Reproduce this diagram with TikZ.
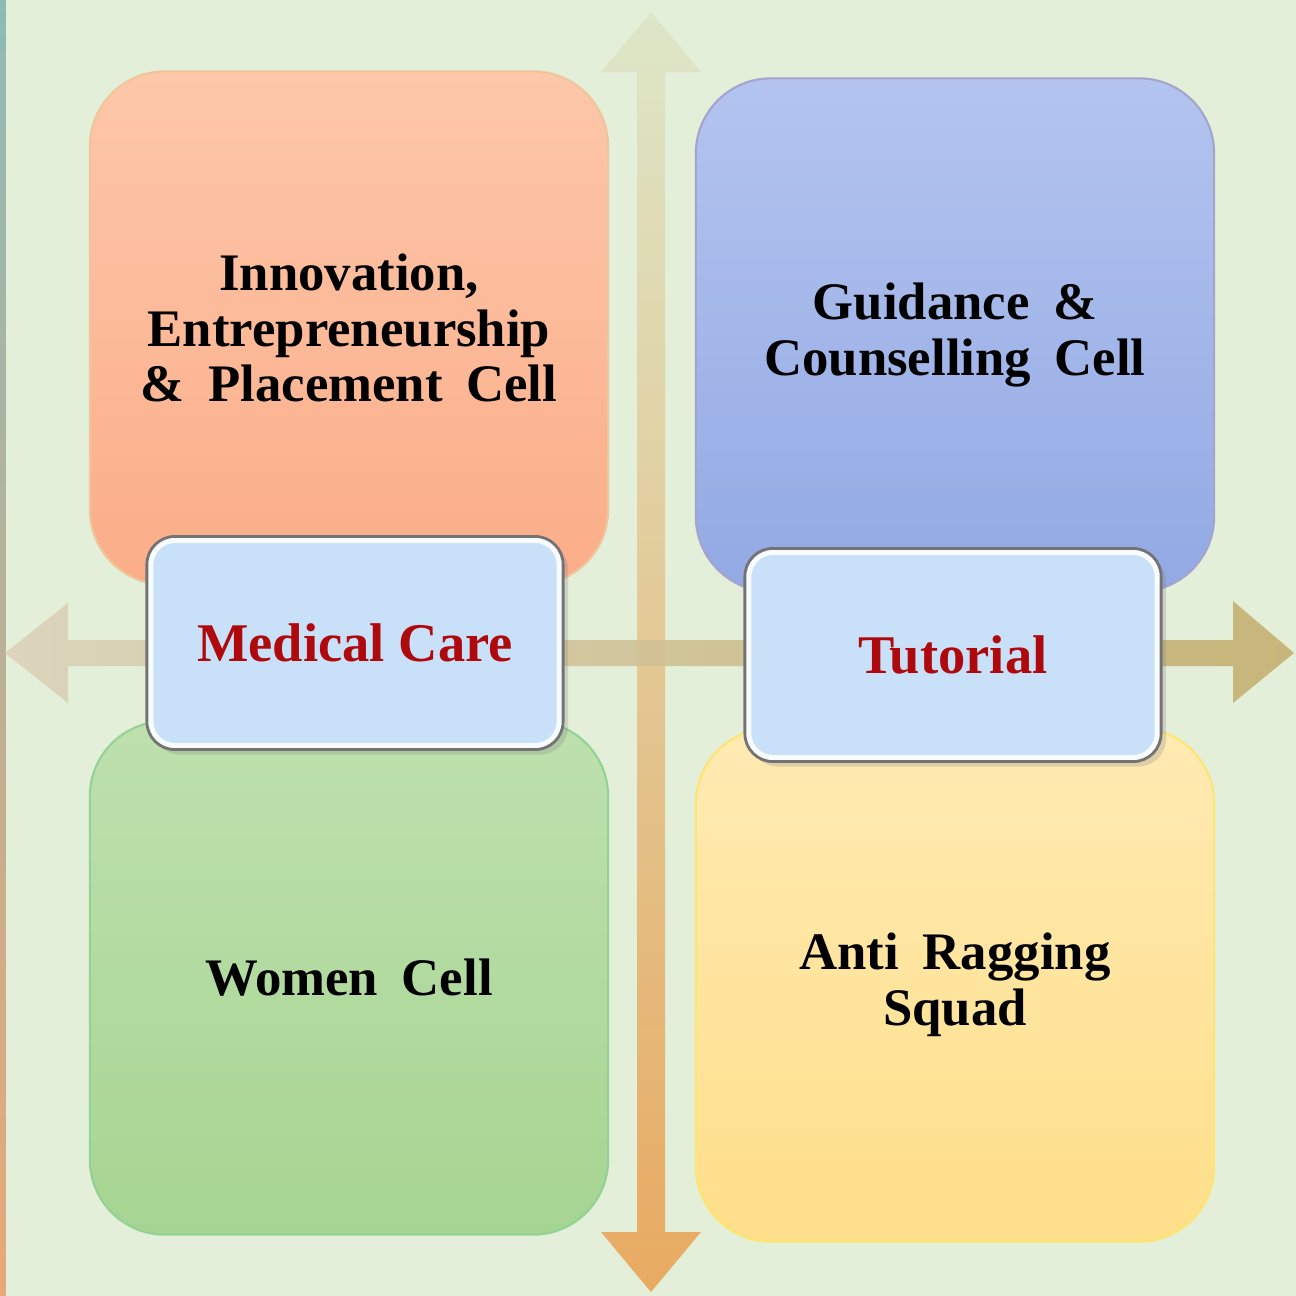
\documentclass[tikz,border=0pt]{standalone}
\usepackage{fontspec}
\setmainfont{Liberation Serif}
\usepackage{tikz}
\usetikzlibrary{shadows, calc}
\definecolor{bgpale}{HTML}{E3EFD9}
\definecolor{tagblue}{HTML}{C8E1F8}
\definecolor{tagred}{HTML}{AE0A0E}
\newcommand{\cellfont}{\fontsize{15pt}{15.8pt}\selectfont\bfseries\spaceskip=0.45em plus 0.1em\relax}
\tikzset{
    cellbox/.style={rectangle, rounded corners=7.5mm, minimum width=51.8mm, minimum height=51.3mm, line width=0.6pt, align=center, font=\cellfont},
    tagbox/.style={rectangle, rounded corners=2.8mm, minimum width=41.6mm, minimum height=21.3mm, draw=black!55, line width=0.8pt, fill=tagblue, text=tagred, font=\fontsize{15.5pt}{16pt}\selectfont\bfseries,
        drop shadow={opacity=0.25, shadow xshift=0.5mm, shadow yshift=-0.5mm},
        path picture={\draw[white, line width=1.3mm, opacity=0.9, rounded corners=2.8mm] (path picture bounding box.south west) rectangle (path picture bounding box.north east);}},
    axisarrow/.style={draw=none, opacity=0.9},
}

\begin{document}
\begin{tikzpicture}[
    x=0.01cm, y=-0.01cm,
    orangecell/.style={cellbox, draw=orange!45!brown!45, top color={rgb,255:red,253;green,199;blue,170}, bottom color={rgb,255:red,251;green,173;blue,136}},
    bluecell/.style={cellbox, draw=blue!30!gray!55, top color={rgb,255:red,180;green,196;blue,239}, bottom color={rgb,255:red,146;green,169;blue,228}},
    greencell/.style={cellbox, draw=green!40!gray!60, top color={rgb,255:red,190;green,224;blue,174}, bottom color={rgb,255:red,166;green,213;blue,146}},
    yellowcell/.style={cellbox, draw=yellow!70!orange!55, top color={rgb,255:red,255;green,234;blue,178}, bottom color={rgb,255:red,255;green,223;blue,138}}
]

% Background and left strip
\fill[bgpale] (0,0) rectangle (1296,1296);
\useasboundingbox (0,0) rectangle (1296,1296);
\fill[top color={rgb,255:red,142;green,186;blue,181}, bottom color={rgb,255:red,232;green,168;blue,120}] (0,0) rectangle (6,1296);

% Axes
\coordinate (ntip) at (651,12);
\coordinate (stip) at (651,1292);
\coordinate (wtip) at (5,653);
\coordinate (etip) at (1294,653);

\path[axisarrow, top color={rgb,255:red,221;green,230;blue,198}, middle color={rgb,255:red,222;green,198;blue,166}, bottom color={rgb,255:red,233;green,163;blue,85}]
    (637,72) -- (601,72) -- (ntip) -- (701,72) -- (665,72) -- (665,1232) -- (701,1232) -- (stip) -- (601,1232) -- (637,1232) -- cycle;
\path[axisarrow, left color={rgb,255:red,220;green,210;blue,185}, middle color={rgb,255:red,214;green,200;blue,168}, right color={rgb,255:red,196;green,176;blue,112}]
    (68,640) -- (68,603) -- (wtip) -- (68,703) -- (68,666) -- (1233,666) -- (1233,703) -- (etip) -- (1233,601) -- (1233,640) -- cycle;

% Quadrant cells
\node[orangecell] (iepc) at (349,328) {Innovation,\\Entrepreneurship\\\& Placement Cell};
\node[bluecell] (gcc) at (955,335) {Guidance \&\\Counselling Cell};
\node[greencell] (women) at (349,978) {Women Cell};
\node[yellowcell] (antirag) at (955,985) {Anti Ragging\\Squad};

% Centre tags
\node[tagbox] (medcare) at (355,643) {Medical Care};
\node[tagbox] (tutorial) at (953,655) {Tutorial};

\end{tikzpicture}
\end{document}
